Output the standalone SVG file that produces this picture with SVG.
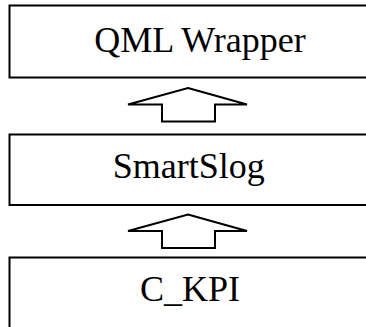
<svg xmlns="http://www.w3.org/2000/svg" width="366" height="327" viewBox="0 0 366 327">
<style>
.box{fill:#fff;stroke:#000;stroke-width:2}
.lbl{font-family:"Liberation Serif","Times New Roman",serif;font-size:36px;fill:#000;text-anchor:middle}
.arr{fill:#fff;stroke:#000;stroke-width:2;stroke-linejoin:miter}
</style>
<rect width="366" height="327" fill="#fff"/>
<g id="qml">
<rect class="box" x="9.5" y="5.5" width="400" height="72"/>
<text class="lbl" x="200" y="52">QML Wrapper</text>
</g>
<g id="smartslog">
<rect class="box" x="9.5" y="134.5" width="400" height="70.5"/>
<text class="lbl" x="188.7" y="178">SmartSlog</text>
</g>
<g id="ckpi">
<rect class="box" x="9.5" y="257.5" width="400" height="100"/>
<text class="lbl" x="190" y="301">C_KPI</text>
</g>
<g id="connectors">
<polygon class="arr" points="188,88 247,104.5 215,104.5 215,121.5 162,121.5 162,104.5 128,104.5"/>
<polygon class="arr" points="188,214.5 247,231 215,231 215,248 162,248 162,231 128,231"/>
</g>
</svg>
